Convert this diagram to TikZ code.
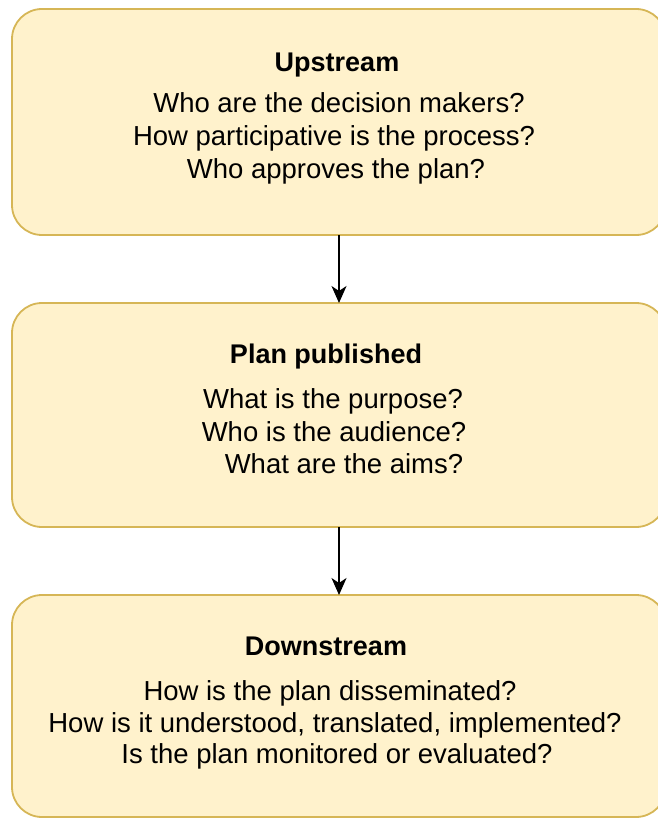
\documentclass[tikz,border=0pt]{standalone}
\usepackage{fontspec}
\setmainfont{Liberation Sans}
\usetikzlibrary{arrows.meta}
\definecolor{boxfill}{HTML}{FFF2CC}
\definecolor{boxline}{HTML}{D6B656}
\tikzset{
  stage/.style={draw=boxline, fill=boxfill, line width=1.8pt, rounded corners=30pt},
  heading/.style={font=\bfseries\fontsize{27}{33}\selectfont, inner sep=0pt, anchor=base},
  question/.style={font=\fontsize{27.5}{33}\selectfont, inner sep=0pt, anchor=base},
  flow/.style={line width=2pt, -{Stealth[length=17pt, width=15pt, inset=5pt]}}
}
\begin{document}
\begin{tikzpicture}[x=1pt, y=-1pt]
\useasboundingbox (0,0) rectangle (657,818);

% three stage boxes
\draw[stage] (12,9) rectangle (666,235);
\draw[stage] (12,303) rectangle (666,527);
\draw[stage] (12,595) rectangle (666,817);
\coordinate (b1s) at (339,235);
\coordinate (b2n) at (339,303);
\coordinate (b2s) at (339,527);
\coordinate (b3n) at (339,595);

% upstream
\node[heading]  (up)   at (337,72)  {Upstream};
\node[question] (up1)  at (339,113) {Who are the decision makers?};
\node[question] (up2)  at (334,146) {How participative is the process?};
\node[question] (up3)  at (336,179) {Who approves the plan?};

% plan published
\node[heading]  (pp)   at (326,363) {Plan published};
\node[question] (pp1)  at (333,408) {What is the purpose?};
\node[question] (pp2)  at (334,441) {Who is the audience?};
\node[question] (pp3)  at (344,473) {What are the aims?};

% downstream
\node[heading]  (dn)   at (326,655) {Downstream};
\node[question] (dn1)  at (330,700) {How is the plan disseminated?};
\node[question] (dn2)  at (335,732) {How is it understood, translated, implemented?};
\node[question] (dn3)  at (337,763) {Is the plan monitored or evaluated?};

% connectors
\draw[flow] (b1s) -- (b2n);
\draw[flow] (b2s) -- (b3n);
\end{tikzpicture}
\end{document}
